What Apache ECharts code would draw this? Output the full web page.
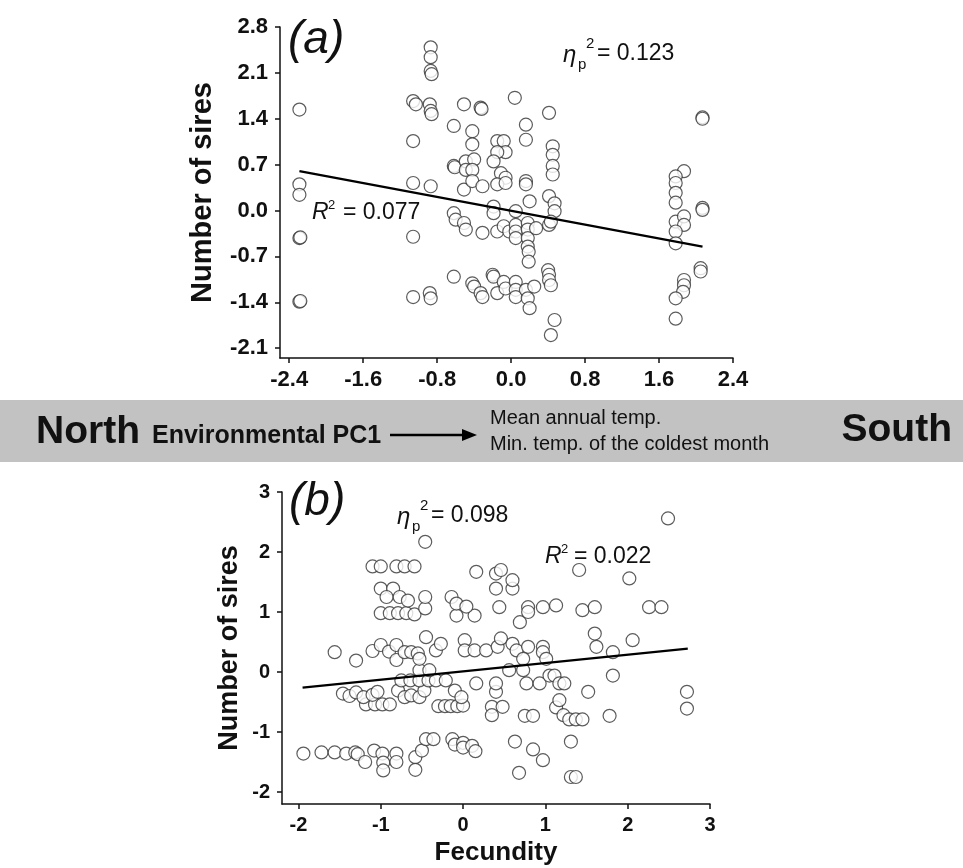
<!DOCTYPE html>
<html><head><meta charset="utf-8">
<script src="https://cdn.jsdelivr.net/npm/echarts@6/dist/echarts.min.js"></script>
<style>html,body{margin:0;padding:0;background:#fff}#c{width:963px;height:868px}</style>
</head><body><div id="c"></div>
<script>
// ---- data ----
const aXTicks = [-2.4, -1.6, -0.8, 0, 0.8, 1.6, 2.4];
const aYTicks = [-2.1, -1.4, -0.7, 0, 0.7, 1.4, 2.1, 2.8];
const bXTicks = [-2, -1, 0, 1, 2, 3];
const bYTicks = [-2, -1, 0, 1, 2, 3];

const aPoints = [
  [-2.29,1.54],[-2.29,0.40],[-2.29,0.24],[-2.29,-0.42],[-2.28,-0.41],[-2.29,-1.39],[-2.28,-1.38],
  [-1.06,1.67],[-1.03,1.62],[-1.06,1.06],[-1.06,0.42],[-1.06,-0.40],[-1.06,-1.32],
  [-0.87,2.49],[-0.87,2.34],[-0.87,2.13],[-0.86,2.08],[-0.88,1.62],[-0.87,1.52],[-0.86,1.47],[-0.87,0.37],[-0.88,-1.26],[-0.87,-1.34],
  [-0.51,1.62],[-0.33,1.57],[-0.32,1.55],[0.04,1.72],[-0.62,1.29],[-0.42,1.21],[-0.42,1.01],
  [-0.15,1.06],[-0.08,1.06],[-0.06,0.89],[-0.15,0.89],[0.16,1.31],[0.16,1.08],[0.41,1.49],
  [0.45,0.98],[0.45,0.85],[0.45,0.68],[0.45,0.55],
  [-0.62,0.68],[-0.61,0.66],[-0.49,0.75],[-0.40,0.78],[-0.49,0.62],[-0.42,0.62],[-0.19,0.75],
  [-0.11,0.57],[-0.06,0.50],[-0.51,0.32],[-0.42,0.45],[-0.31,0.37],[-0.15,0.40],[-0.06,0.42],
  [0.16,0.45],[0.16,0.40],[0.20,0.14],[0.41,0.22],[0.47,0.11],[0.47,-0.01],
  [-0.62,-0.04],[-0.60,-0.14],[-0.51,-0.19],[-0.49,-0.29],[-0.31,-0.34],[-0.19,0.06],[-0.19,-0.04],
  [-0.15,-0.32],[-0.08,-0.24],[-0.02,-0.32],[0.05,-0.01],[0.05,-0.22],[0.05,-0.32],[0.05,-0.42],
  [0.18,-0.19],[0.18,-0.29],[0.18,-0.42],[0.18,-0.55],[0.19,-0.63],[0.19,-0.78],[0.27,-0.27],
  [0.41,-0.22],[0.43,-0.17],
  [-0.62,-1.01],[-0.42,-1.11],[-0.40,-1.16],[-0.33,-1.26],[-0.31,-1.32],[-0.20,-0.98],[-0.19,-1.01],
  [-0.15,-1.26],[-0.08,-1.09],[-0.06,-1.19],[0.05,-1.09],[0.05,-1.21],[0.05,-1.32],
  [0.16,-1.21],[0.18,-1.34],[0.20,-1.49],[0.25,-1.16],
  [0.40,-0.91],[0.41,-0.98],[0.41,-1.06],[0.43,-1.14],[0.47,-1.67],[0.43,-1.90],
  [2.07,1.42],[2.07,1.40],[1.87,0.60],[1.78,0.52],[1.78,0.42],[1.78,0.27],[1.78,0.12],
  [1.78,-0.17],[1.87,-0.09],[1.87,-0.22],[1.78,-0.32],[1.78,-0.50],[2.07,0.04],[2.07,0.01],
  [2.05,-0.88],[2.05,-0.93],[1.87,-1.06],[1.87,-1.14],[1.86,-1.24],[1.78,-1.34],[1.78,-1.65]
];
const aLine = [[-2.29, 0.60], [2.07, -0.55]];

const bPoints = [
  [-1.94,-1.36],[-1.72,-1.34],[-1.56,-1.34],[-1.42,-1.36],[-1.31,-1.34],[-1.28,-1.37],[-1.19,-1.50],
  [-1.08,-1.31],[-0.98,-1.36],[-0.97,-1.51],[-0.97,-1.64],[-0.81,-1.36],[-0.81,-1.50],[-0.58,-1.42],
  [-0.58,-1.63],[-0.50,-1.31],[-0.45,-1.12],[-0.36,-1.12],[-0.13,-1.12],[-0.10,-1.21],[0,-1.18],
  [0,-1.26],[0.11,-1.23],[0.15,-1.32],[0.63,-1.16],[0.68,-1.68],[0.85,-1.29],[0.97,-1.47],
  [1.31,-1.16],[1.31,-1.75],[1.37,-1.75],
  [-1.18,-0.54],[-1.07,-0.54],[-0.98,-0.54],[-0.89,-0.54],[-0.30,-0.57],[-0.22,-0.57],[-0.15,-0.57],
  [-0.07,-0.57],[0.0,-0.56],[0.35,-0.58],[0.35,-0.72],[0.48,-0.58],[0.75,-0.73],[0.85,-0.73],
  [1.13,-0.59],[1.17,-0.47],[1.22,-0.72],[1.29,-0.79],[1.37,-0.79],[1.45,-0.79],[1.78,-0.73],
  [2.72,-0.61],[2.72,-0.33],
  [-1.46,-0.36],[-1.38,-0.40],[-1.30,-0.34],[-1.21,-0.42],[-1.10,-0.38],[-1.04,-0.33],[-0.79,-0.31],
  [-0.71,-0.42],[-0.63,-0.39],[-0.53,-0.42],[-0.47,-0.31],[-0.10,-0.31],[-0.02,-0.42],[0.40,-0.33],
  [1.52,-0.33],
  [-0.75,-0.14],[-0.64,-0.14],[-0.53,-0.14],[-0.42,-0.14],[-0.33,-0.14],[-0.21,-0.14],[0.16,-0.19],
  [0.40,-0.19],[0.77,-0.19],[0.93,-0.19],[1.05,-0.06],[1.11,-0.06],[1.17,-0.19],[1.23,-0.19],[1.82,-0.06],
  [-0.53,0.03],[-0.41,0.03],[0.56,0.03],[0.73,0.03],
  [-1.56,0.33],[-1.30,0.19],[-1.10,0.35],[-1.0,0.45],[-0.90,0.34],[-0.81,0.45],[-0.81,0.20],
  [-0.71,0.33],[-0.63,0.33],[-0.55,0.31],[-0.53,0.22],[-0.45,0.58],[-0.33,0.36],[-0.27,0.47],
  [0.02,0.53],[0.02,0.36],[0.14,0.36],[0.28,0.36],[0.42,0.42],[0.46,0.56],[0.60,0.47],[0.65,0.36],
  [0.79,0.42],[0.97,0.42],[0.97,0.33],[1.01,0.22],[0.73,0.22],[1.60,0.64],[1.62,0.42],[1.82,0.33],[2.06,0.53],
  [-1.0,0.98],[-0.89,0.98],[-0.79,0.98],[-0.69,0.98],[-0.59,0.96],[-0.46,1.06],[-0.08,0.94],[0.14,0.94],
  [0.44,1.08],[0.69,0.83],[0.79,1.08],[0.79,1.0],[0.97,1.08],[1.13,1.11],[1.45,1.03],[1.60,1.08],
  [2.26,1.08],[2.41,1.08],
  [-1.0,1.39],[-0.85,1.39],[-0.93,1.25],[-0.77,1.25],[-0.67,1.19],[-0.46,1.25],[-0.14,1.25],
  [-0.08,1.14],[0.04,1.09],[0.40,1.39],[0.60,1.39],
  [-1.10,1.76],[-1.0,1.76],[-0.81,1.76],[-0.71,1.76],[-0.59,1.76],[0.16,1.67],[0.40,1.64],
  [0.46,1.70],[0.60,1.53],[1.41,1.70],[2.02,1.56],
  [-0.46,2.17],[2.49,2.56]
];
const bLine = [[-1.95, -0.26], [2.73, 0.39]];

// ---- chart ----
const FF = '"Liberation Sans", Arial, Helvetica, sans-serif';
const INK = '#111';

function valAxis(gi, min, max, ticks, dec, name, nameGap, pos, labelMargin, labelSize, nameSize) {
  return {
    type: 'value', gridIndex: gi, min: min, max: max, position: pos,
    name: name, nameLocation: 'middle', nameGap: nameGap, nameMoveOverlap: false,
    nameTextStyle: {fontFamily: FF, fontWeight: 'bold', fontSize: nameSize, color: INK},
    axisLine: {show: true, onZero: false, lineStyle: {color: INK, width: 1.5}},
    axisTick: {show: true, customValues: ticks, length: 5, lineStyle: {color: INK, width: 1.5}},
    axisLabel: {show: true, customValues: ticks, margin: labelMargin,
      formatter: v => Number(v).toFixed(dec),
      fontFamily: FF, fontWeight: 'bold', fontSize: labelSize, color: INK},
    splitLine: {show: false}
  };
}
function t(x, y, s, size, opt) {
  opt = opt || {};
  return {type: 'text', x: x, y: y, z: 100, silent: true,
    style: {text: s, fontFamily: FF, fontSize: size,
      fontStyle: opt.italic ? 'italic' : 'normal', fontWeight: opt.bold ? 'bold' : 'normal',
      fill: INK, align: opt.align || 'left', verticalAlign: 'middle'}};
}

const chart = echarts.init(document.getElementById('c'), null, {renderer: 'canvas'});
chart.setOption({
  animation: false,
  backgroundColor: '#fff',
  grid: [
    {left: 280, top: 27, width: 453, height: 331},
    {left: 282, top: 492, width: 428, height: 312}
  ],
  xAxis: [
    valAxis(0, -2.5, 2.4, aXTicks, 1, '', 0, 'bottom', 11, 22, 27),
    valAxis(1, -2.2, 3, bXTicks, 0, 'Fecundity', 36, 'bottom', 11, 20, 26)
  ],
  yAxis: [
    valAxis(0, -2.25, 2.8, aYTicks, 1, 'Number of sires', 63, 'left', 12, 22, 29),
    valAxis(1, -2.2, 3, bYTicks, 0, 'Number of sires', 39, 'left', 12, 20, 27)
  ],
  series: [
    {type: 'scatter', xAxisIndex: 0, yAxisIndex: 0, data: aPoints, symbol: 'circle', symbolSize: 13,
      itemStyle: {color: '#fff', borderColor: '#333', borderWidth: 1.2}, z: 2},
    {type: 'line', xAxisIndex: 0, yAxisIndex: 0, data: aLine, symbol: 'none',
      lineStyle: {color: '#000', width: 2.2}, z: 3},
    {type: 'scatter', xAxisIndex: 1, yAxisIndex: 1, data: bPoints, symbol: 'circle', symbolSize: 13,
      itemStyle: {color: '#fff', borderColor: '#333', borderWidth: 1.2}, z: 2},
    {type: 'line', xAxisIndex: 1, yAxisIndex: 1, data: bLine, symbol: 'none',
      lineStyle: {color: '#000', width: 2.2}, z: 3}
  ],
  graphic: [
    {type: 'rect', shape: {x: 0, y: 400, width: 963, height: 62}, style: {fill: '#c2c2c2'}, z: 0, silent: true},
    t(36, 432, 'North', 39, {bold: true}),
    t(152, 436, 'Environmental PC1', 25, {bold: true}),
    {type: 'line', shape: {x1: 390, y1: 435, x2: 464, y2: 435}, style: {stroke: '#000', lineWidth: 2.5}, z: 100, silent: true},
    {type: 'polygon', shape: {points: [[462, 429], [477, 435], [462, 441]]}, style: {fill: '#000'}, z: 100, silent: true},
    t(490, 418, 'Mean annual temp.', 20),
    t(490, 444, 'Min. temp. of the coldest month', 20),
    t(952, 430, 'South', 39, {bold: true, align: 'right'}),
    t(288, 40, '(a)', 46, {italic: true}),
    t(563, 55, 'η', 24, {italic: true}),
    t(578, 65, 'p', 15),
    t(586, 44, '2', 15),
    t(597, 54, '= 0.123', 23),
    t(312, 213, 'R', 23, {italic: true}),
    t(328, 205, '2', 13),
    t(343, 213, '= 0.077', 23),
    t(289, 502, '(b)', 46, {italic: true}),
    t(397, 517, 'η', 24, {italic: true}),
    t(412, 527, 'p', 15),
    t(420, 506, '2', 15),
    t(431, 516, '= 0.098', 23),
    t(545, 557, 'R', 23, {italic: true}),
    t(561, 549, '2', 13),
    t(574, 557, '= 0.022', 23)
  ]
});
</script></body></html>
